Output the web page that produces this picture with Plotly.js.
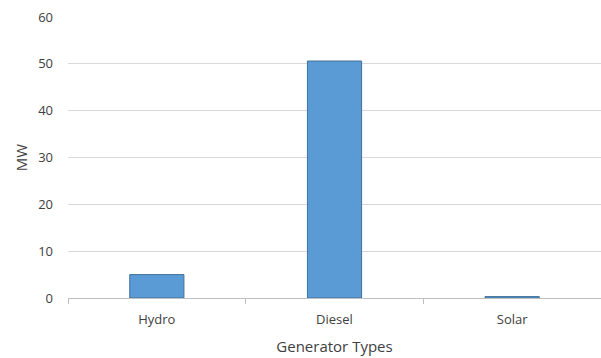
<!DOCTYPE html>
<html>
<head>
<meta charset="utf-8">
<script src="https://cdn.plot.ly/plotly-3.0.1.min.js"></script>
<style>
  html, body { margin: 0; padding: 0; background: #fff; }
  #chart { width: 601px; height: 358px; }
</style>
</head>
<body>
<div id="chart"></div>
<script>
// Installed generating capacity by generator type (MW)
const generatorTypes = ["Hydro", "Diesel", "Solar"];
const capacityMW = [5, 50.6, 0.3];
const yTicks = [0, 10, 20, 30, 40, 50, 60];

const textColor = "#404040";
const gridColor = "#D9D9D9";

const trace = {
  type: "bar",
  x: generatorTypes,
  y: capacityMW,
  marker: {
    color: "#5B9BD5",
    line: { color: "#41719C", width: 1 }
  },
  hoverinfo: "x+y"
};

const layout = {
  width: 601,
  height: 358,
  margin: { l: 68, r: 0, t: 17, b: 60 },
  paper_bgcolor: "#ffffff",
  plot_bgcolor: "#ffffff",
  font: { family: "Open Sans, Noto Sans, sans-serif", size: 12, color: textColor },
  bargap: 0.695,
  showlegend: false,
  xaxis: {
    type: "category",
    tickson: "boundaries",
    ticks: "outside",
    ticklen: 5,
    tickcolor: "#BFBFBF",
    showline: true,
    linecolor: "#BFBFBF",
    linewidth: 1,
    showgrid: false,
    ticklabelstandoff: 9,
    tickfont: { size: 13, color: textColor },
    title: { text: "Generator Types", font: { size: 15, color: textColor }, standoff: 14 }
  },
  yaxis: {
    range: [0, 60],
    tickvals: yTicks,
    ticktext: yTicks.map(String),
    showgrid: true,
    gridcolor: gridColor,
    gridwidth: 1,
    zeroline: false,
    showline: false,
    ticks: "",
    ticklabelstandoff: 14,
    tickfont: { size: 13, color: textColor },
    title: { text: "MW", font: { size: 15, color: textColor }, standoff: 6 }
  }
};

Plotly.newPlot("chart", [trace], layout, { displayModeBar: false, staticPlot: true });
</script>
</body>
</html>
